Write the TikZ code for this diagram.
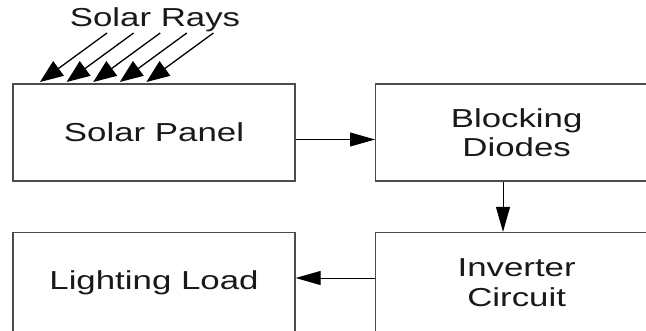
\documentclass[tikz,border=0pt]{standalone}
\usepackage{fontspec}
\setmainfont{Liberation Sans}[FakeStretch=1.34]
\usetikzlibrary{arrows.meta}
\begin{document}
\begin{tikzpicture}[x=1pt,y=-1pt,
  blk/.style={draw=black!70,line width=1.3pt,minimum width=282pt,minimum height=97pt,inner sep=0pt,
    align=center,text=black!90,font=\fontsize{26}{29.5}\selectfont},
  rblk/.style={blk,anchor=west,minimum width=330pt},
  arr/.style={line width=0.9pt,-{Triangle[length=25pt,width=14pt]}},
  ray/.style={line width=1.3pt,-{Triangle[length=23pt,width=18pt]}},
  lbl/.style={text=black!90,font=\fontsize{26}{29.5}\selectfont,inner sep=0pt}]
\useasboundingbox (0,0) rectangle (646,330);
\clip (0,0) rectangle (646,330);
\node[blk] (sp) at (154,132.5) {Solar Panel};
\node[rblk] (bd) at (375,132.5) {\parbox{282pt}{\centering Blocking\\Diodes}\hspace{48pt}};
\node[blk,minimum height=100pt] (ll) at (154,282.5) {Lighting Load};
\node[rblk,minimum height=100pt] (inv) at (375,282.5) {\parbox{282pt}{\centering Inverter\\Circuit}\hspace{48pt}};
\node[lbl] (sr) at (155,20) {Solar Rays};
\foreach \i in {0,...,4}{
  \coordinate (t\i) at ({107+26.6*\i},33);
  \coordinate (h\i) at ({40+26.6*\i},82);
  \draw[ray] (t\i) -- (h\i);
}
\draw[arr] ([yshift=-7pt]sp.east) -- ([yshift=-7pt]bd.west);
\draw[arr] (bd.south -| 503,0) -- (inv.north -| 503,0);
\draw[arr] ([yshift=4.5pt]inv.west) -- ([yshift=4.5pt]ll.east);
\end{tikzpicture}
\end{document}
